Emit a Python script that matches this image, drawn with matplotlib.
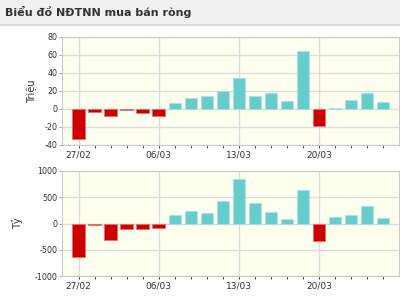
import numpy as np
import matplotlib
matplotlib.use("Agg")
import matplotlib.pyplot as plt

dates = ["27/02", "28/02", "01/03", "02/03", "03/03", "06/03", "07/03", "08/03",
         "09/03", "10/03", "13/03", "14/03", "15/03", "16/03", "17/03", "20/03",
         "21/03", "22/03", "23/03", "24/03"]
label_dates = ["27/02", "06/03", "13/03", "20/03"]

# Khoi luong (trieu cp)
vol = [-33, -3.5, -8, -1, -4, -8, 7, 12.5, 15, 20, 35, 15, 18, 8.5, 64, -19,
       1.5, 9.5, 18, 7.5]
# Gia tri (ty dong)
val = [-640, -25, -318, -110, -110, -90, 155, 247, 195, 431, 850, 393, 228, 82,
       634, -330, 120, 171, 336, 101]

RED = "#cc0000"
RED_EDGE = "#e87070"
CYAN = "#66cccc"
CYAN_EDGE = "#a8e4e4"
BG = "#fffff0"
GRID = "#dcdcdc"

plt.rcParams["font.family"] = ["DejaVu Sans"]
plt.rcParams["axes.unicode_minus"] = False

fig = plt.figure(figsize=(4.0, 2.96), dpi=100)
fig.patch.set_facecolor("white")

# header band
fig.patches.append(plt.Rectangle((0, 1 - 24 / 296), 1, 24 / 296, transform=fig.transFigure,
                                 facecolor="#f1f1f1", edgecolor="none", zorder=0))
fig.lines.append(plt.Line2D([0, 1], [1 - 25 / 296] * 2, transform=fig.transFigure,
                            color="#d8d8d8", lw=1.2))
fig.text(5 / 400, 1 - 12 / 296, "Biểu đồ NĐTNN mua bán ròng", fontsize=8,
         fontweight="bold", color="#333333", va="center", ha="left")

ax1 = fig.add_axes([62 / 400, 1 - 145 / 296, 337 / 400, 108 / 296])
ax2 = fig.add_axes([62 / 400, 1 - 276 / 296, 337 / 400, 105 / 296])

x = np.arange(len(dates))
major = [dates.index(d) for d in label_dates]


def draw(ax, values, ylim, yticks, ylabel, labelpad):
    colors = [CYAN if v >= 0 else RED for v in values]
    edges = [CYAN_EDGE if v >= 0 else RED_EDGE for v in values]
    ax.set_facecolor(BG)
    ax.bar(x, values, width=0.78, color=colors, edgecolor=edges, linewidth=0.6,
           zorder=3)
    ax.set_xlim(-1.04, 20.0)
    ax.set_ylim(*ylim)
    ax.set_yticks(yticks)
    ax.set_xticks(major)
    ax.set_xticklabels(label_dates)
    ax.set_xticks(x, minor=True)
    ax.grid(True, which="major", color=GRID, lw=1.0, zorder=0)
    ax.tick_params(axis="y", which="major", labelsize=5.8, colors="#333333",
                   length=2, width=0.6, pad=1.5)
    ax.tick_params(axis="x", which="major", labelsize=6.5, colors="#333333",
                   length=2, width=0.6, pad=2)
    ax.tick_params(axis="x", which="minor", length=2, width=0.6, color="#333333")
    ax.tick_params(axis="y", length=2, color="#999999")
    for s in ax.spines.values():
        s.set_color("#cccccc")
        s.set_linewidth(0.8)
    ax.set_ylabel(ylabel, fontsize=7, color="#333333", labelpad=labelpad)


draw(ax1, vol, (-40, 80), [-40, -20, 0, 20, 40, 60, 80], "Triệu", 5)
draw(ax2, val, (-1000, 1000), [-1000, -500, 0, 500, 1000], "Tỷ", 8)

fig.savefig("out.png", dpi=100)
